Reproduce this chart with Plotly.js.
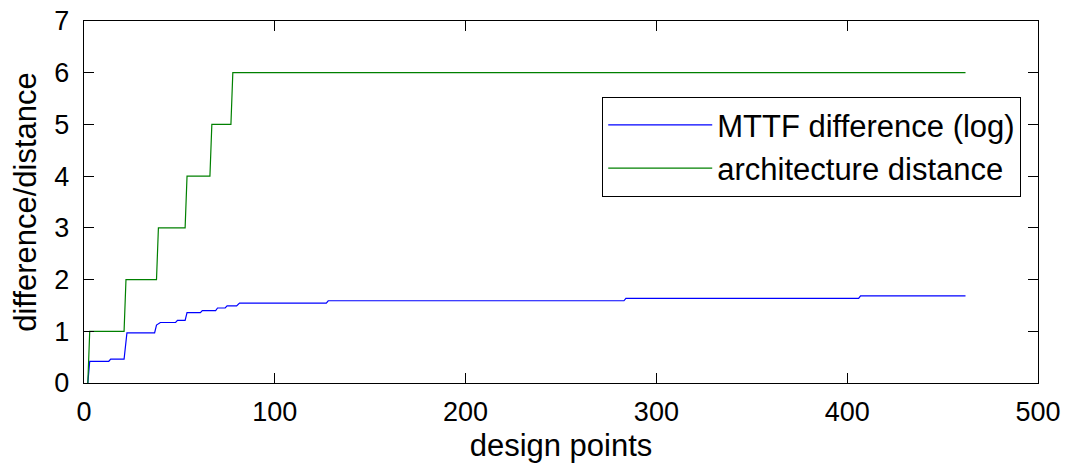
<!DOCTYPE html>
<html>
<head>
<meta charset="utf-8">
<script src="https://cdn.plot.ly/plotly-3.0.1.min.js"></script>
<style>html,body{margin:0;padding:0;background:#fff;}#chart{width:1065px;height:465px;}</style>
</head>
<body>
<div id="chart"></div>
<script>
// MTTF difference (log): step breakpoints
const mttfX = [2, 3, 13, 14, 21, 22.5, 37, 38, 40, 48, 49, 53, 54, 61, 62, 69, 70, 74, 75, 80, 81.5, 127, 128, 283, 284, 406, 407, 462];
const mttfY = [0, 0.42, 0.42, 0.46, 0.46, 0.97, 0.97, 1.12, 1.17, 1.17, 1.21, 1.21, 1.36, 1.36, 1.40, 1.40, 1.45, 1.45, 1.49, 1.49, 1.545, 1.545, 1.59, 1.59, 1.635, 1.635, 1.685, 1.685];
// architecture distance: step breakpoints
const archX = [2, 3, 21, 22, 38, 39, 53, 54, 66, 67, 77, 78, 462];
const archY = [0, 1, 1, 2, 2, 3, 3, 4, 4, 5, 5, 6, 6];
const seriesNames = ["MTTF difference (log)", "architecture distance"];
const xTicks = [0, 100, 200, 300, 400, 500];
const yTicks = [0, 1, 2, 3, 4, 5, 6, 7];

const fontFam = "Liberation Sans, Arial, Helvetica, sans-serif";
const traces = [
  {x: mttfX, y: mttfY, type: "scatter", mode: "lines", name: seriesNames[0],
   line: {color: "#0000ff", width: 1.2}},
  {x: archX, y: archY, type: "scatter", mode: "lines", name: seriesNames[1],
   line: {color: "#008000", width: 1.2}}
];
const axisCommon = {
  showgrid: false, zeroline: false, showline: true, linecolor: "#000", linewidth: 1.2,
  mirror: "ticks", ticks: "inside", ticklen: 10, tickwidth: 1.2, tickcolor: "#000",
  tickfont: {family: fontFam, size: 27, color: "#000"}
};
const layout = {
  width: 1065, height: 465,
  margin: {l: 84, r: 27, t: 21, b: 82},
  paper_bgcolor: "#fff", plot_bgcolor: "#fff",
  font: {family: fontFam, color: "#000"},
  xaxis: Object.assign({}, axisCommon, {
    range: [0, 500], tickvals: xTicks, ticktext: xTicks.map(String),
    ticklabelstandoff: 4,
    title: {text: "design points", font: {family: fontFam, size: 31, color: "#000"}, standoff: 8}
  }),
  yaxis: Object.assign({}, axisCommon, {
    range: [0, 7], tickvals: yTicks, ticktext: yTicks.map(String),
    ticklabelstandoff: 8,
    title: {text: "difference/distance", font: {family: fontFam, size: 31, color: "#000"}, standoff: 8}
  }),
  showlegend: true,
  legend: {
    x: 0.543, y: 0.79, xanchor: "left", yanchor: "top",
    bgcolor: "#fff", bordercolor: "#000", borderwidth: 1.2,
    font: {family: fontFam, size: 31, color: "#000"},
    itemwidth: 104,
    tracegroupgap: 0
  }
};
Plotly.newPlot("chart", traces, layout, {displayModeBar: false, staticPlot: true});
</script>
</body>
</html>
